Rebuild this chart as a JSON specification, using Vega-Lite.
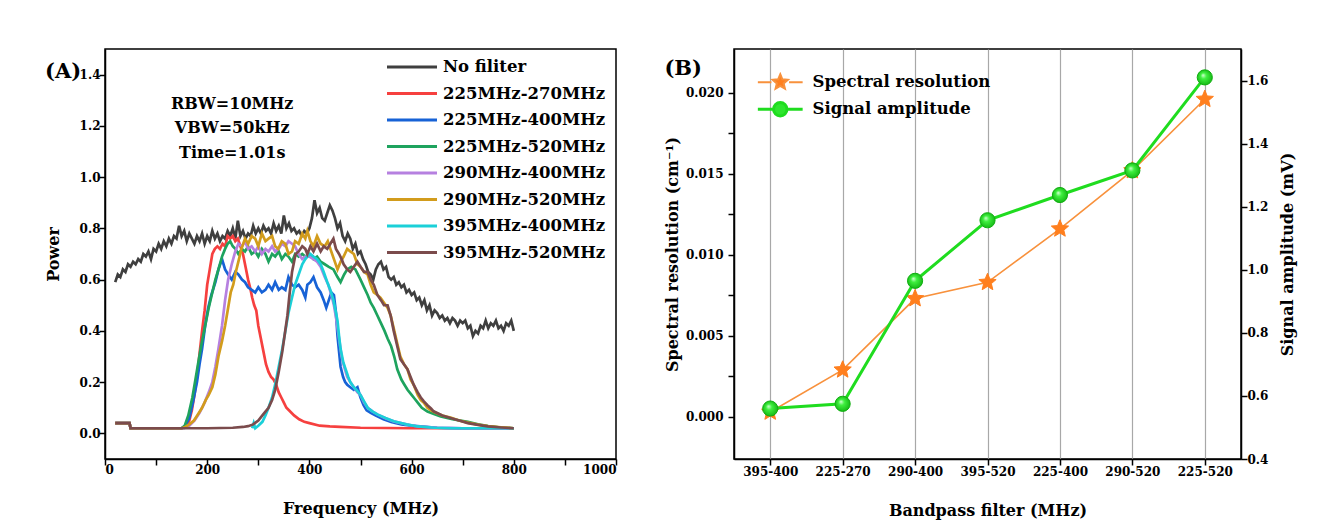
{
"$schema":"https://vega.github.io/schema/vega-lite/v6.json",
"background":"white",
"padding":{"left":44,"top":48,"right":10,"bottom":5},
"spacing":45,
"config":{
 "font":"DejaVu Serif",
 "view":{"stroke":"black","strokeWidth":1.5},
 "axis":{"labelFont":"DejaVu Serif","labelFontWeight":"bold","labelFontSize":12,"labelColor":"black","titleFont":"DejaVu Serif","titleFontWeight":"bold","titleFontSize":16,"titleColor":"black","domainColor":"black","domainWidth":1.5,"tickColor":"black","tickWidth":1.5,"tickSize":6,"labelPadding":-1,"grid":false},
 "legend":{"labelFont":"DejaVu Serif","labelFontWeight":"bold","labelFontSize":16.5,"labelColor":"black","labelLimit":400},
 "title":{"font":"DejaVu Serif","fontWeight":"bold","fontSize":21,"color":"black","anchor":"start","frame":"bounds"}
},
"resolve":{"scale":{"color":"independent"},"legend":{"color":"independent"}},
"datasets":{
"notes":[{"t":"RBW=10MHz","f":249,"p":1.285},{"t":"VBW=50kHz","f":249,"p":1.19},{"t":"Time=1.01s","f":249,"p":1.095}],
"filters":[{"i":0,"filter":"395-400","res":0.0003,"amp":0.56},{"i":1,"filter":"225-270","res":0.0029,"amp":0.575},{"i":2,"filter":"290-400","res":0.0073,"amp":0.965},{"i":3,"filter":"395-520","res":0.0083,"amp":1.157},{"i":4,"filter":"225-400","res":0.0116,"amp":1.237},{"i":5,"filter":"290-520","res":0.0152,"amp":1.315},{"i":6,"filter":"225-520","res":0.0196,"amp":1.61}],
"spectra":[
{"s":"No filiter","f":20,"p":0.59},{"s":"No filiter","f":25,"p":0.62},{"s":"No filiter","f":30,"p":0.61},{"s":"No filiter","f":35,"p":0.64},{"s":"No filiter","f":40,"p":0.63},{"s":"No filiter","f":45,"p":0.66},{"s":"No filiter","f":50,"p":0.65},{"s":"No filiter","f":55,"p":0.67},{"s":"No filiter","f":60,"p":0.66},{"s":"No filiter","f":65,"p":0.68},{"s":"No filiter","f":70,"p":0.67},{"s":"No filiter","f":75,"p":0.7},{"s":"No filiter","f":80,"p":0.69},{"s":"No filiter","f":85,"p":0.71},{"s":"No filiter","f":90,"p":0.68},{"s":"No filiter","f":95,"p":0.72},{"s":"No filiter","f":100,"p":0.71},{"s":"No filiter","f":105,"p":0.74},{"s":"No filiter","f":110,"p":0.72},{"s":"No filiter","f":115,"p":0.75},{"s":"No filiter","f":120,"p":0.73},{"s":"No filiter","f":125,"p":0.76},{"s":"No filiter","f":130,"p":0.74},{"s":"No filiter","f":135,"p":0.77},{"s":"No filiter","f":140,"p":0.76},{"s":"No filiter","f":145,"p":0.81},{"s":"No filiter","f":150,"p":0.77},{"s":"No filiter","f":155,"p":0.79},{"s":"No filiter","f":160,"p":0.75},{"s":"No filiter","f":165,"p":0.78},{"s":"No filiter","f":170,"p":0.76},{"s":"No filiter","f":175,"p":0.74},{"s":"No filiter","f":180,"p":0.77},{"s":"No filiter","f":185,"p":0.75},{"s":"No filiter","f":190,"p":0.78},{"s":"No filiter","f":195,"p":0.74},{"s":"No filiter","f":200,"p":0.77},{"s":"No filiter","f":205,"p":0.75},{"s":"No filiter","f":210,"p":0.79},{"s":"No filiter","f":215,"p":0.76},{"s":"No filiter","f":220,"p":0.78},{"s":"No filiter","f":225,"p":0.75},{"s":"No filiter","f":230,"p":0.77},{"s":"No filiter","f":235,"p":0.76},{"s":"No filiter","f":240,"p":0.79},{"s":"No filiter","f":245,"p":0.77},{"s":"No filiter","f":250,"p":0.8},{"s":"No filiter","f":255,"p":0.76},{"s":"No filiter","f":260,"p":0.83},{"s":"No filiter","f":265,"p":0.77},{"s":"No filiter","f":270,"p":0.79},{"s":"No filiter","f":275,"p":0.76},{"s":"No filiter","f":280,"p":0.78},{"s":"No filiter","f":285,"p":0.77},{"s":"No filiter","f":290,"p":0.81},{"s":"No filiter","f":295,"p":0.78},{"s":"No filiter","f":300,"p":0.8},{"s":"No filiter","f":305,"p":0.78},{"s":"No filiter","f":310,"p":0.81},{"s":"No filiter","f":315,"p":0.79},{"s":"No filiter","f":320,"p":0.8},{"s":"No filiter","f":325,"p":0.78},{"s":"No filiter","f":330,"p":0.82},{"s":"No filiter","f":335,"p":0.79},{"s":"No filiter","f":340,"p":0.81},{"s":"No filiter","f":345,"p":0.78},{"s":"No filiter","f":350,"p":0.85},{"s":"No filiter","f":355,"p":0.8},{"s":"No filiter","f":360,"p":0.82},{"s":"No filiter","f":365,"p":0.79},{"s":"No filiter","f":370,"p":0.8},{"s":"No filiter","f":375,"p":0.78},{"s":"No filiter","f":380,"p":0.79},{"s":"No filiter","f":385,"p":0.77},{"s":"No filiter","f":390,"p":0.79},{"s":"No filiter","f":395,"p":0.78},{"s":"No filiter","f":400,"p":0.8},{"s":"No filiter","f":405,"p":0.84},{"s":"No filiter","f":410,"p":0.91},{"s":"No filiter","f":415,"p":0.86},{"s":"No filiter","f":420,"p":0.88},{"s":"No filiter","f":425,"p":0.84},{"s":"No filiter","f":430,"p":0.83},{"s":"No filiter","f":435,"p":0.86},{"s":"No filiter","f":440,"p":0.89},{"s":"No filiter","f":445,"p":0.87},{"s":"No filiter","f":450,"p":0.84},{"s":"No filiter","f":455,"p":0.8},{"s":"No filiter","f":460,"p":0.82},{"s":"No filiter","f":465,"p":0.77},{"s":"No filiter","f":470,"p":0.75},{"s":"No filiter","f":475,"p":0.78},{"s":"No filiter","f":480,"p":0.76},{"s":"No filiter","f":485,"p":0.72},{"s":"No filiter","f":490,"p":0.74},{"s":"No filiter","f":495,"p":0.7},{"s":"No filiter","f":500,"p":0.71},{"s":"No filiter","f":505,"p":0.68},{"s":"No filiter","f":510,"p":0.66},{"s":"No filiter","f":515,"p":0.63},{"s":"No filiter","f":520,"p":0.62},{"s":"No filiter","f":525,"p":0.6},{"s":"No filiter","f":530,"p":0.64},{"s":"No filiter","f":535,"p":0.66},{"s":"No filiter","f":540,"p":0.67},{"s":"No filiter","f":545,"p":0.64},{"s":"No filiter","f":550,"p":0.65},{"s":"No filiter","f":555,"p":0.61},{"s":"No filiter","f":560,"p":0.6},{"s":"No filiter","f":565,"p":0.61},{"s":"No filiter","f":570,"p":0.58},{"s":"No filiter","f":575,"p":0.59},{"s":"No filiter","f":580,"p":0.57},{"s":"No filiter","f":585,"p":0.58},{"s":"No filiter","f":590,"p":0.55},{"s":"No filiter","f":595,"p":0.56},{"s":"No filiter","f":600,"p":0.54},{"s":"No filiter","f":605,"p":0.55},{"s":"No filiter","f":610,"p":0.52},{"s":"No filiter","f":615,"p":0.53},{"s":"No filiter","f":620,"p":0.5},{"s":"No filiter","f":625,"p":0.52},{"s":"No filiter","f":630,"p":0.48},{"s":"No filiter","f":635,"p":0.5},{"s":"No filiter","f":640,"p":0.46},{"s":"No filiter","f":645,"p":0.48},{"s":"No filiter","f":650,"p":0.47},{"s":"No filiter","f":655,"p":0.45},{"s":"No filiter","f":660,"p":0.46},{"s":"No filiter","f":665,"p":0.44},{"s":"No filiter","f":670,"p":0.45},{"s":"No filiter","f":675,"p":0.43},{"s":"No filiter","f":680,"p":0.45},{"s":"No filiter","f":685,"p":0.44},{"s":"No filiter","f":690,"p":0.42},{"s":"No filiter","f":695,"p":0.44},{"s":"No filiter","f":700,"p":0.43},{"s":"No filiter","f":705,"p":0.44},{"s":"No filiter","f":710,"p":0.41},{"s":"No filiter","f":715,"p":0.42},{"s":"No filiter","f":720,"p":0.38},{"s":"No filiter","f":725,"p":0.4},{"s":"No filiter","f":730,"p":0.39},{"s":"No filiter","f":735,"p":0.42},{"s":"No filiter","f":740,"p":0.41},{"s":"No filiter","f":745,"p":0.44},{"s":"No filiter","f":750,"p":0.41},{"s":"No filiter","f":755,"p":0.43},{"s":"No filiter","f":760,"p":0.42},{"s":"No filiter","f":765,"p":0.44},{"s":"No filiter","f":770,"p":0.41},{"s":"No filiter","f":775,"p":0.42},{"s":"No filiter","f":780,"p":0.4},{"s":"No filiter","f":785,"p":0.43},{"s":"No filiter","f":790,"p":0.42},{"s":"No filiter","f":795,"p":0.44},{"s":"No filiter","f":800,"p":0.4},
{"s":"225MHz-270MHz","f":20,"p":0.04},{"s":"225MHz-270MHz","f":48,"p":0.04},{"s":"225MHz-270MHz","f":50,"p":0.02},{"s":"225MHz-270MHz","f":100,"p":0.02},{"s":"225MHz-270MHz","f":150,"p":0.02},{"s":"225MHz-270MHz","f":160,"p":0.03},{"s":"225MHz-270MHz","f":165,"p":0.05},{"s":"225MHz-270MHz","f":170,"p":0.09},{"s":"225MHz-270MHz","f":175,"p":0.15},{"s":"225MHz-270MHz","f":180,"p":0.22},{"s":"225MHz-270MHz","f":185,"p":0.31},{"s":"225MHz-270MHz","f":190,"p":0.4},{"s":"225MHz-270MHz","f":195,"p":0.48},{"s":"225MHz-270MHz","f":200,"p":0.58},{"s":"225MHz-270MHz","f":205,"p":0.64},{"s":"225MHz-270MHz","f":210,"p":0.7},{"s":"225MHz-270MHz","f":215,"p":0.72},{"s":"225MHz-270MHz","f":220,"p":0.73},{"s":"225MHz-270MHz","f":225,"p":0.72},{"s":"225MHz-270MHz","f":230,"p":0.74},{"s":"225MHz-270MHz","f":235,"p":0.73},{"s":"225MHz-270MHz","f":240,"p":0.77},{"s":"225MHz-270MHz","f":245,"p":0.76},{"s":"225MHz-270MHz","f":250,"p":0.77},{"s":"225MHz-270MHz","f":255,"p":0.75},{"s":"225MHz-270MHz","f":260,"p":0.76},{"s":"225MHz-270MHz","f":265,"p":0.73},{"s":"225MHz-270MHz","f":270,"p":0.7},{"s":"225MHz-270MHz","f":275,"p":0.65},{"s":"225MHz-270MHz","f":280,"p":0.6},{"s":"225MHz-270MHz","f":285,"p":0.56},{"s":"225MHz-270MHz","f":288,"p":0.53},{"s":"225MHz-270MHz","f":292,"p":0.5},{"s":"225MHz-270MHz","f":296,"p":0.48},{"s":"225MHz-270MHz","f":300,"p":0.42},{"s":"225MHz-270MHz","f":305,"p":0.37},{"s":"225MHz-270MHz","f":310,"p":0.32},{"s":"225MHz-270MHz","f":315,"p":0.27},{"s":"225MHz-270MHz","f":320,"p":0.24},{"s":"225MHz-270MHz","f":325,"p":0.22},{"s":"225MHz-270MHz","f":330,"p":0.21},{"s":"225MHz-270MHz","f":335,"p":0.19},{"s":"225MHz-270MHz","f":340,"p":0.16},{"s":"225MHz-270MHz","f":345,"p":0.14},{"s":"225MHz-270MHz","f":350,"p":0.12},{"s":"225MHz-270MHz","f":355,"p":0.1},{"s":"225MHz-270MHz","f":360,"p":0.09},{"s":"225MHz-270MHz","f":370,"p":0.07},{"s":"225MHz-270MHz","f":380,"p":0.055},{"s":"225MHz-270MHz","f":390,"p":0.045},{"s":"225MHz-270MHz","f":400,"p":0.04},{"s":"225MHz-270MHz","f":420,"p":0.03},{"s":"225MHz-270MHz","f":440,"p":0.027},{"s":"225MHz-270MHz","f":460,"p":0.025},{"s":"225MHz-270MHz","f":500,"p":0.022},{"s":"225MHz-270MHz","f":600,"p":0.02},{"s":"225MHz-270MHz","f":700,"p":0.02},{"s":"225MHz-270MHz","f":800,"p":0.02},
{"s":"225MHz-400MHz","f":20,"p":0.04},{"s":"225MHz-400MHz","f":48,"p":0.04},{"s":"225MHz-400MHz","f":50,"p":0.02},{"s":"225MHz-400MHz","f":150,"p":0.02},{"s":"225MHz-400MHz","f":157,"p":0.03},{"s":"225MHz-400MHz","f":165,"p":0.06},{"s":"225MHz-400MHz","f":172,"p":0.12},{"s":"225MHz-400MHz","f":180,"p":0.2},{"s":"225MHz-400MHz","f":185,"p":0.27},{"s":"225MHz-400MHz","f":190,"p":0.33},{"s":"225MHz-400MHz","f":196,"p":0.42},{"s":"225MHz-400MHz","f":202,"p":0.49},{"s":"225MHz-400MHz","f":208,"p":0.54},{"s":"225MHz-400MHz","f":216,"p":0.59},{"s":"225MHz-400MHz","f":222,"p":0.64},{"s":"225MHz-400MHz","f":229,"p":0.68},{"s":"225MHz-400MHz","f":235,"p":0.64},{"s":"225MHz-400MHz","f":241,"p":0.62},{"s":"225MHz-400MHz","f":248,"p":0.6},{"s":"225MHz-400MHz","f":255,"p":0.63},{"s":"225MHz-400MHz","f":261,"p":0.62},{"s":"225MHz-400MHz","f":268,"p":0.6},{"s":"225MHz-400MHz","f":274,"p":0.59},{"s":"225MHz-400MHz","f":280,"p":0.57},{"s":"225MHz-400MHz","f":287,"p":0.56},{"s":"225MHz-400MHz","f":294,"p":0.55},{"s":"225MHz-400MHz","f":300,"p":0.57},{"s":"225MHz-400MHz","f":307,"p":0.55},{"s":"225MHz-400MHz","f":314,"p":0.56},{"s":"225MHz-400MHz","f":320,"p":0.58},{"s":"225MHz-400MHz","f":327,"p":0.56},{"s":"225MHz-400MHz","f":333,"p":0.59},{"s":"225MHz-400MHz","f":340,"p":0.56},{"s":"225MHz-400MHz","f":346,"p":0.57},{"s":"225MHz-400MHz","f":353,"p":0.56},{"s":"225MHz-400MHz","f":359,"p":0.61},{"s":"225MHz-400MHz","f":366,"p":0.58},{"s":"225MHz-400MHz","f":372,"p":0.57},{"s":"225MHz-400MHz","f":379,"p":0.58},{"s":"225MHz-400MHz","f":386,"p":0.56},{"s":"225MHz-400MHz","f":392,"p":0.53},{"s":"225MHz-400MHz","f":396,"p":0.58},{"s":"225MHz-400MHz","f":402,"p":0.59},{"s":"225MHz-400MHz","f":408,"p":0.61},{"s":"225MHz-400MHz","f":415,"p":0.57},{"s":"225MHz-400MHz","f":422,"p":0.55},{"s":"225MHz-400MHz","f":428,"p":0.52},{"s":"225MHz-400MHz","f":433,"p":0.49},{"s":"225MHz-400MHz","f":438,"p":0.52},{"s":"225MHz-400MHz","f":443,"p":0.55},{"s":"225MHz-400MHz","f":448,"p":0.54},{"s":"225MHz-400MHz","f":452,"p":0.47},{"s":"225MHz-400MHz","f":455,"p":0.38},{"s":"225MHz-400MHz","f":458,"p":0.32},{"s":"225MHz-400MHz","f":461,"p":0.26},{"s":"225MHz-400MHz","f":466,"p":0.22},{"s":"225MHz-400MHz","f":470,"p":0.2},{"s":"225MHz-400MHz","f":474,"p":0.19},{"s":"225MHz-400MHz","f":480,"p":0.18},{"s":"225MHz-400MHz","f":487,"p":0.17},{"s":"225MHz-400MHz","f":494,"p":0.18},{"s":"225MHz-400MHz","f":500,"p":0.14},{"s":"225MHz-400MHz","f":506,"p":0.11},{"s":"225MHz-400MHz","f":512,"p":0.09},{"s":"225MHz-400MHz","f":520,"p":0.08},{"s":"225MHz-400MHz","f":530,"p":0.07},{"s":"225MHz-400MHz","f":545,"p":0.055},{"s":"225MHz-400MHz","f":560,"p":0.045},{"s":"225MHz-400MHz","f":580,"p":0.035},{"s":"225MHz-400MHz","f":600,"p":0.03},{"s":"225MHz-400MHz","f":650,"p":0.022},{"s":"225MHz-400MHz","f":700,"p":0.02},{"s":"225MHz-400MHz","f":800,"p":0.02},
{"s":"225MHz-520MHz","f":20,"p":0.04},{"s":"225MHz-520MHz","f":48,"p":0.04},{"s":"225MHz-520MHz","f":50,"p":0.02},{"s":"225MHz-520MHz","f":150,"p":0.02},{"s":"225MHz-520MHz","f":156,"p":0.03},{"s":"225MHz-520MHz","f":163,"p":0.07},{"s":"225MHz-520MHz","f":171,"p":0.14},{"s":"225MHz-520MHz","f":177,"p":0.21},{"s":"225MHz-520MHz","f":182,"p":0.27},{"s":"225MHz-520MHz","f":189,"p":0.35},{"s":"225MHz-520MHz","f":196,"p":0.42},{"s":"225MHz-520MHz","f":203,"p":0.49},{"s":"225MHz-520MHz","f":210,"p":0.55},{"s":"225MHz-520MHz","f":216,"p":0.6},{"s":"225MHz-520MHz","f":222,"p":0.64},{"s":"225MHz-520MHz","f":229,"p":0.69},{"s":"225MHz-520MHz","f":235,"p":0.72},{"s":"225MHz-520MHz","f":240,"p":0.74},{"s":"225MHz-520MHz","f":245,"p":0.75},{"s":"225MHz-520MHz","f":250,"p":0.73},{"s":"225MHz-520MHz","f":255,"p":0.72},{"s":"225MHz-520MHz","f":261,"p":0.7},{"s":"225MHz-520MHz","f":268,"p":0.72},{"s":"225MHz-520MHz","f":274,"p":0.71},{"s":"225MHz-520MHz","f":280,"p":0.73},{"s":"225MHz-520MHz","f":287,"p":0.7},{"s":"225MHz-520MHz","f":294,"p":0.71},{"s":"225MHz-520MHz","f":300,"p":0.69},{"s":"225MHz-520MHz","f":307,"p":0.72},{"s":"225MHz-520MHz","f":314,"p":0.7},{"s":"225MHz-520MHz","f":320,"p":0.67},{"s":"225MHz-520MHz","f":327,"p":0.7},{"s":"225MHz-520MHz","f":333,"p":0.69},{"s":"225MHz-520MHz","f":340,"p":0.71},{"s":"225MHz-520MHz","f":346,"p":0.68},{"s":"225MHz-520MHz","f":353,"p":0.7},{"s":"225MHz-520MHz","f":359,"p":0.69},{"s":"225MHz-520MHz","f":366,"p":0.67},{"s":"225MHz-520MHz","f":372,"p":0.7},{"s":"225MHz-520MHz","f":379,"p":0.69},{"s":"225MHz-520MHz","f":386,"p":0.7},{"s":"225MHz-520MHz","f":392,"p":0.69},{"s":"225MHz-520MHz","f":400,"p":0.7},{"s":"225MHz-520MHz","f":408,"p":0.68},{"s":"225MHz-520MHz","f":415,"p":0.69},{"s":"225MHz-520MHz","f":422,"p":0.67},{"s":"225MHz-520MHz","f":430,"p":0.66},{"s":"225MHz-520MHz","f":438,"p":0.65},{"s":"225MHz-520MHz","f":447,"p":0.64},{"s":"225MHz-520MHz","f":455,"p":0.61},{"s":"225MHz-520MHz","f":461,"p":0.59},{"s":"225MHz-520MHz","f":468,"p":0.62},{"s":"225MHz-520MHz","f":474,"p":0.64},{"s":"225MHz-520MHz","f":482,"p":0.65},{"s":"225MHz-520MHz","f":490,"p":0.64},{"s":"225MHz-520MHz","f":500,"p":0.6},{"s":"225MHz-520MHz","f":507,"p":0.57},{"s":"225MHz-520MHz","f":514,"p":0.54},{"s":"225MHz-520MHz","f":520,"p":0.51},{"s":"225MHz-520MHz","f":526,"p":0.49},{"s":"225MHz-520MHz","f":533,"p":0.46},{"s":"225MHz-520MHz","f":540,"p":0.43},{"s":"225MHz-520MHz","f":547,"p":0.4},{"s":"225MHz-520MHz","f":553,"p":0.37},{"s":"225MHz-520MHz","f":560,"p":0.34},{"s":"225MHz-520MHz","f":566,"p":0.3},{"s":"225MHz-520MHz","f":572,"p":0.25},{"s":"225MHz-520MHz","f":580,"p":0.21},{"s":"225MHz-520MHz","f":586,"p":0.19},{"s":"225MHz-520MHz","f":592,"p":0.17},{"s":"225MHz-520MHz","f":600,"p":0.15},{"s":"225MHz-520MHz","f":606,"p":0.135},{"s":"225MHz-520MHz","f":612,"p":0.12},{"s":"225MHz-520MHz","f":620,"p":0.1},{"s":"225MHz-520MHz","f":631,"p":0.085},{"s":"225MHz-520MHz","f":645,"p":0.075},{"s":"225MHz-520MHz","f":657,"p":0.066},{"s":"225MHz-520MHz","f":680,"p":0.055},{"s":"225MHz-520MHz","f":710,"p":0.045},{"s":"225MHz-520MHz","f":730,"p":0.035},{"s":"225MHz-520MHz","f":750,"p":0.028},{"s":"225MHz-520MHz","f":775,"p":0.023},{"s":"225MHz-520MHz","f":800,"p":0.02},
{"s":"290MHz-400MHz","f":20,"p":0.04},{"s":"290MHz-400MHz","f":48,"p":0.04},{"s":"290MHz-400MHz","f":50,"p":0.02},{"s":"290MHz-400MHz","f":155,"p":0.02},{"s":"290MHz-400MHz","f":165,"p":0.03},{"s":"290MHz-400MHz","f":175,"p":0.05},{"s":"290MHz-400MHz","f":185,"p":0.08},{"s":"290MHz-400MHz","f":195,"p":0.12},{"s":"290MHz-400MHz","f":203,"p":0.16},{"s":"290MHz-400MHz","f":210,"p":0.2},{"s":"290MHz-400MHz","f":216,"p":0.26},{"s":"290MHz-400MHz","f":222,"p":0.33},{"s":"290MHz-400MHz","f":229,"p":0.42},{"s":"290MHz-400MHz","f":235,"p":0.52},{"s":"290MHz-400MHz","f":241,"p":0.6},{"s":"290MHz-400MHz","f":248,"p":0.66},{"s":"290MHz-400MHz","f":255,"p":0.71},{"s":"290MHz-400MHz","f":261,"p":0.74},{"s":"290MHz-400MHz","f":268,"p":0.73},{"s":"290MHz-400MHz","f":274,"p":0.75},{"s":"290MHz-400MHz","f":280,"p":0.72},{"s":"290MHz-400MHz","f":287,"p":0.73},{"s":"290MHz-400MHz","f":294,"p":0.71},{"s":"290MHz-400MHz","f":300,"p":0.73},{"s":"290MHz-400MHz","f":307,"p":0.7},{"s":"290MHz-400MHz","f":314,"p":0.72},{"s":"290MHz-400MHz","f":320,"p":0.71},{"s":"290MHz-400MHz","f":327,"p":0.73},{"s":"290MHz-400MHz","f":333,"p":0.71},{"s":"290MHz-400MHz","f":340,"p":0.72},{"s":"290MHz-400MHz","f":346,"p":0.74},{"s":"290MHz-400MHz","f":353,"p":0.73},{"s":"290MHz-400MHz","f":359,"p":0.75},{"s":"290MHz-400MHz","f":366,"p":0.74},{"s":"290MHz-400MHz","f":372,"p":0.73},{"s":"290MHz-400MHz","f":379,"p":0.7},{"s":"290MHz-400MHz","f":386,"p":0.68},{"s":"290MHz-400MHz","f":392,"p":0.69},{"s":"290MHz-400MHz","f":400,"p":0.69},{"s":"290MHz-400MHz","f":408,"p":0.68},{"s":"290MHz-400MHz","f":415,"p":0.67},{"s":"290MHz-400MHz","f":422,"p":0.65},{"s":"290MHz-400MHz","f":430,"p":0.61},{"s":"290MHz-400MHz","f":437,"p":0.58},{"s":"290MHz-400MHz","f":443,"p":0.54},{"s":"290MHz-400MHz","f":448,"p":0.5},{"s":"290MHz-400MHz","f":453,"p":0.44},{"s":"290MHz-400MHz","f":458,"p":0.37},{"s":"290MHz-400MHz","f":463,"p":0.3},{"s":"290MHz-400MHz","f":468,"p":0.26},{"s":"290MHz-400MHz","f":474,"p":0.22},{"s":"290MHz-400MHz","f":480,"p":0.2},{"s":"290MHz-400MHz","f":487,"p":0.18},{"s":"290MHz-400MHz","f":494,"p":0.16},{"s":"290MHz-400MHz","f":500,"p":0.15},{"s":"290MHz-400MHz","f":507,"p":0.12},{"s":"290MHz-400MHz","f":514,"p":0.1},{"s":"290MHz-400MHz","f":524,"p":0.085},{"s":"290MHz-400MHz","f":533,"p":0.074},{"s":"290MHz-400MHz","f":550,"p":0.058},{"s":"290MHz-400MHz","f":565,"p":0.047},{"s":"290MHz-400MHz","f":590,"p":0.035},{"s":"290MHz-400MHz","f":612,"p":0.027},{"s":"290MHz-400MHz","f":650,"p":0.022},{"s":"290MHz-400MHz","f":700,"p":0.02},{"s":"290MHz-400MHz","f":800,"p":0.02},
{"s":"290MHz-520MHz","f":20,"p":0.04},{"s":"290MHz-520MHz","f":48,"p":0.04},{"s":"290MHz-520MHz","f":50,"p":0.02},{"s":"290MHz-520MHz","f":150,"p":0.02},{"s":"290MHz-520MHz","f":157,"p":0.025},{"s":"290MHz-520MHz","f":165,"p":0.035},{"s":"290MHz-520MHz","f":174,"p":0.05},{"s":"290MHz-520MHz","f":182,"p":0.075},{"s":"290MHz-520MHz","f":190,"p":0.1},{"s":"290MHz-520MHz","f":197,"p":0.13},{"s":"290MHz-520MHz","f":203,"p":0.15},{"s":"290MHz-520MHz","f":210,"p":0.18},{"s":"290MHz-520MHz","f":216,"p":0.23},{"s":"290MHz-520MHz","f":222,"p":0.3},{"s":"290MHz-520MHz","f":229,"p":0.36},{"s":"290MHz-520MHz","f":235,"p":0.42},{"s":"290MHz-520MHz","f":241,"p":0.49},{"s":"290MHz-520MHz","f":246,"p":0.55},{"s":"290MHz-520MHz","f":251,"p":0.58},{"s":"290MHz-520MHz","f":256,"p":0.63},{"s":"290MHz-520MHz","f":261,"p":0.67},{"s":"290MHz-520MHz","f":267,"p":0.72},{"s":"290MHz-520MHz","f":274,"p":0.76},{"s":"290MHz-520MHz","f":280,"p":0.74},{"s":"290MHz-520MHz","f":287,"p":0.77},{"s":"290MHz-520MHz","f":294,"p":0.76},{"s":"290MHz-520MHz","f":300,"p":0.73},{"s":"290MHz-520MHz","f":307,"p":0.78},{"s":"290MHz-520MHz","f":314,"p":0.75},{"s":"290MHz-520MHz","f":320,"p":0.76},{"s":"290MHz-520MHz","f":327,"p":0.77},{"s":"290MHz-520MHz","f":333,"p":0.73},{"s":"290MHz-520MHz","f":339,"p":0.72},{"s":"290MHz-520MHz","f":346,"p":0.75},{"s":"290MHz-520MHz","f":353,"p":0.74},{"s":"290MHz-520MHz","f":359,"p":0.7},{"s":"290MHz-520MHz","f":366,"p":0.71},{"s":"290MHz-520MHz","f":372,"p":0.75},{"s":"290MHz-520MHz","f":379,"p":0.74},{"s":"290MHz-520MHz","f":386,"p":0.78},{"s":"290MHz-520MHz","f":392,"p":0.76},{"s":"290MHz-520MHz","f":396,"p":0.79},{"s":"290MHz-520MHz","f":402,"p":0.75},{"s":"290MHz-520MHz","f":408,"p":0.73},{"s":"290MHz-520MHz","f":415,"p":0.77},{"s":"290MHz-520MHz","f":422,"p":0.74},{"s":"290MHz-520MHz","f":430,"p":0.73},{"s":"290MHz-520MHz","f":436,"p":0.75},{"s":"290MHz-520MHz","f":441,"p":0.72},{"s":"290MHz-520MHz","f":448,"p":0.68},{"s":"290MHz-520MHz","f":455,"p":0.64},{"s":"290MHz-520MHz","f":461,"p":0.67},{"s":"290MHz-520MHz","f":467,"p":0.69},{"s":"290MHz-520MHz","f":474,"p":0.72},{"s":"290MHz-520MHz","f":480,"p":0.71},{"s":"290MHz-520MHz","f":487,"p":0.7},{"s":"290MHz-520MHz","f":494,"p":0.66},{"s":"290MHz-520MHz","f":500,"p":0.65},{"s":"290MHz-520MHz","f":507,"p":0.63},{"s":"290MHz-520MHz","f":514,"p":0.62},{"s":"290MHz-520MHz","f":520,"p":0.58},{"s":"290MHz-520MHz","f":526,"p":0.55},{"s":"290MHz-520MHz","f":533,"p":0.54},{"s":"290MHz-520MHz","f":539,"p":0.53},{"s":"290MHz-520MHz","f":546,"p":0.51},{"s":"290MHz-520MHz","f":553,"p":0.49},{"s":"290MHz-520MHz","f":559,"p":0.46},{"s":"290MHz-520MHz","f":565,"p":0.41},{"s":"290MHz-520MHz","f":572,"p":0.35},{"s":"290MHz-520MHz","f":578,"p":0.3},{"s":"290MHz-520MHz","f":585,"p":0.27},{"s":"290MHz-520MHz","f":592,"p":0.25},{"s":"290MHz-520MHz","f":598,"p":0.21},{"s":"290MHz-520MHz","f":604,"p":0.19},{"s":"290MHz-520MHz","f":612,"p":0.15},{"s":"290MHz-520MHz","f":618,"p":0.13},{"s":"290MHz-520MHz","f":624,"p":0.12},{"s":"290MHz-520MHz","f":631,"p":0.1},{"s":"290MHz-520MHz","f":638,"p":0.09},{"s":"290MHz-520MHz","f":645,"p":0.082},{"s":"290MHz-520MHz","f":660,"p":0.07},{"s":"290MHz-520MHz","f":676,"p":0.062},{"s":"290MHz-520MHz","f":693,"p":0.05},{"s":"290MHz-520MHz","f":710,"p":0.042},{"s":"290MHz-520MHz","f":730,"p":0.034},{"s":"290MHz-520MHz","f":749,"p":0.028},{"s":"290MHz-520MHz","f":775,"p":0.024},{"s":"290MHz-520MHz","f":800,"p":0.02},
{"s":"395MHz-400MHz","f":288,"p":0.02},{"s":"395MHz-400MHz","f":291,"p":0.04},{"s":"395MHz-400MHz","f":294,"p":0.02},{"s":"395MHz-400MHz","f":300,"p":0.03},{"s":"395MHz-400MHz","f":308,"p":0.045},{"s":"395MHz-400MHz","f":314,"p":0.07},{"s":"395MHz-400MHz","f":320,"p":0.1},{"s":"395MHz-400MHz","f":327,"p":0.14},{"s":"395MHz-400MHz","f":333,"p":0.19},{"s":"395MHz-400MHz","f":339,"p":0.25},{"s":"395MHz-400MHz","f":346,"p":0.32},{"s":"395MHz-400MHz","f":353,"p":0.4},{"s":"395MHz-400MHz","f":359,"p":0.47},{"s":"395MHz-400MHz","f":366,"p":0.53},{"s":"395MHz-400MHz","f":372,"p":0.58},{"s":"395MHz-400MHz","f":379,"p":0.62},{"s":"395MHz-400MHz","f":386,"p":0.66},{"s":"395MHz-400MHz","f":392,"p":0.68},{"s":"395MHz-400MHz","f":396,"p":0.69},{"s":"395MHz-400MHz","f":402,"p":0.7},{"s":"395MHz-400MHz","f":408,"p":0.69},{"s":"395MHz-400MHz","f":415,"p":0.68},{"s":"395MHz-400MHz","f":422,"p":0.66},{"s":"395MHz-400MHz","f":428,"p":0.63},{"s":"395MHz-400MHz","f":435,"p":0.59},{"s":"395MHz-400MHz","f":441,"p":0.56},{"s":"395MHz-400MHz","f":447,"p":0.52},{"s":"395MHz-400MHz","f":451,"p":0.48},{"s":"395MHz-400MHz","f":455,"p":0.44},{"s":"395MHz-400MHz","f":458,"p":0.38},{"s":"395MHz-400MHz","f":461,"p":0.33},{"s":"395MHz-400MHz","f":466,"p":0.28},{"s":"395MHz-400MHz","f":471,"p":0.25},{"s":"395MHz-400MHz","f":476,"p":0.22},{"s":"395MHz-400MHz","f":480,"p":0.2},{"s":"395MHz-400MHz","f":487,"p":0.18},{"s":"395MHz-400MHz","f":494,"p":0.165},{"s":"395MHz-400MHz","f":500,"p":0.15},{"s":"395MHz-400MHz","f":507,"p":0.125},{"s":"395MHz-400MHz","f":514,"p":0.1},{"s":"395MHz-400MHz","f":524,"p":0.085},{"s":"395MHz-400MHz","f":533,"p":0.074},{"s":"395MHz-400MHz","f":549,"p":0.06},{"s":"395MHz-400MHz","f":565,"p":0.047},{"s":"395MHz-400MHz","f":590,"p":0.035},{"s":"395MHz-400MHz","f":612,"p":0.027},{"s":"395MHz-400MHz","f":645,"p":0.022},{"s":"395MHz-400MHz","f":676,"p":0.02},{"s":"395MHz-400MHz","f":800,"p":0.02},
{"s":"395MHz-520MHz","f":20,"p":0.04},{"s":"395MHz-520MHz","f":48,"p":0.04},{"s":"395MHz-520MHz","f":50,"p":0.02},{"s":"395MHz-520MHz","f":150,"p":0.02},{"s":"395MHz-520MHz","f":200,"p":0.02},{"s":"395MHz-520MHz","f":250,"p":0.022},{"s":"395MHz-520MHz","f":270,"p":0.025},{"s":"395MHz-520MHz","f":280,"p":0.028},{"s":"395MHz-520MHz","f":290,"p":0.035},{"s":"395MHz-520MHz","f":300,"p":0.05},{"s":"395MHz-520MHz","f":308,"p":0.07},{"s":"395MHz-520MHz","f":314,"p":0.085},{"s":"395MHz-520MHz","f":320,"p":0.1},{"s":"395MHz-520MHz","f":327,"p":0.13},{"s":"395MHz-520MHz","f":333,"p":0.17},{"s":"395MHz-520MHz","f":340,"p":0.24},{"s":"395MHz-520MHz","f":347,"p":0.32},{"s":"395MHz-520MHz","f":352,"p":0.39},{"s":"395MHz-520MHz","f":357,"p":0.46},{"s":"395MHz-520MHz","f":361,"p":0.54},{"s":"395MHz-520MHz","f":366,"p":0.63},{"s":"395MHz-520MHz","f":370,"p":0.67},{"s":"395MHz-520MHz","f":373,"p":0.7},{"s":"395MHz-520MHz","f":379,"p":0.71},{"s":"395MHz-520MHz","f":386,"p":0.73},{"s":"395MHz-520MHz","f":392,"p":0.72},{"s":"395MHz-520MHz","f":396,"p":0.7},{"s":"395MHz-520MHz","f":402,"p":0.73},{"s":"395MHz-520MHz","f":408,"p":0.71},{"s":"395MHz-520MHz","f":415,"p":0.74},{"s":"395MHz-520MHz","f":422,"p":0.71},{"s":"395MHz-520MHz","f":428,"p":0.73},{"s":"395MHz-520MHz","f":435,"p":0.72},{"s":"395MHz-520MHz","f":441,"p":0.74},{"s":"395MHz-520MHz","f":447,"p":0.76},{"s":"395MHz-520MHz","f":452,"p":0.72},{"s":"395MHz-520MHz","f":458,"p":0.7},{"s":"395MHz-520MHz","f":463,"p":0.68},{"s":"395MHz-520MHz","f":467,"p":0.66},{"s":"395MHz-520MHz","f":474,"p":0.64},{"s":"395MHz-520MHz","f":480,"p":0.63},{"s":"395MHz-520MHz","f":487,"p":0.65},{"s":"395MHz-520MHz","f":494,"p":0.67},{"s":"395MHz-520MHz","f":500,"p":0.65},{"s":"395MHz-520MHz","f":507,"p":0.63},{"s":"395MHz-520MHz","f":514,"p":0.63},{"s":"395MHz-520MHz","f":520,"p":0.6},{"s":"395MHz-520MHz","f":526,"p":0.58},{"s":"395MHz-520MHz","f":533,"p":0.54},{"s":"395MHz-520MHz","f":540,"p":0.52},{"s":"395MHz-520MHz","f":546,"p":0.5},{"s":"395MHz-520MHz","f":553,"p":0.5},{"s":"395MHz-520MHz","f":559,"p":0.46},{"s":"395MHz-520MHz","f":565,"p":0.4},{"s":"395MHz-520MHz","f":572,"p":0.34},{"s":"395MHz-520MHz","f":578,"p":0.29},{"s":"395MHz-520MHz","f":585,"p":0.27},{"s":"395MHz-520MHz","f":592,"p":0.25},{"s":"395MHz-520MHz","f":598,"p":0.22},{"s":"395MHz-520MHz","f":604,"p":0.19},{"s":"395MHz-520MHz","f":612,"p":0.16},{"s":"395MHz-520MHz","f":618,"p":0.14},{"s":"395MHz-520MHz","f":624,"p":0.125},{"s":"395MHz-520MHz","f":631,"p":0.11},{"s":"395MHz-520MHz","f":638,"p":0.097},{"s":"395MHz-520MHz","f":643,"p":0.086},{"s":"395MHz-520MHz","f":660,"p":0.07},{"s":"395MHz-520MHz","f":676,"p":0.06},{"s":"395MHz-520MHz","f":693,"p":0.05},{"s":"395MHz-520MHz","f":710,"p":0.04},{"s":"395MHz-520MHz","f":730,"p":0.033},{"s":"395MHz-520MHz","f":749,"p":0.027},{"s":"395MHz-520MHz","f":775,"p":0.023},{"s":"395MHz-520MHz","f":800,"p":0.02}
]
},
"hconcat":[
{
 "width":511,"height":410,
 "title":{"text":"(A)","offset":-33},
 "layer":[
  {"data":{"name":"spectra"},
   "mark":{"type":"line","strokeWidth":2.7,"clip":true},
   "encoding":{
    "x":{"field":"f","type":"quantitative","scale":{"domain":[0,1000],"nice":false,"zero":false},
      "axis":{"title":"Frequency (MHz)","values":[0,100,200,300,400,500,600,700,800,900,1000],"labelExpr":"datum.value % 200 == 0 ? format(datum.value,'d') : ''","titlePadding":25,"encode":{"ticks":{"update":{"y2":{"signal":"datum.value % 200 == 0 ? -6 : -3"}}}}}},
    "y":{"field":"p","type":"quantitative","scale":{"domain":[-0.1,1.5],"nice":false,"zero":false},
      "axis":{"title":"Power","values":[0,0.1,0.2,0.3,0.4,0.5,0.6,0.7,0.8,0.9,1.0,1.1,1.2,1.3,1.4],"labelExpr":"round(datum.value*10) % 2 == 0 ? format(datum.value,'.1f') : ''","titlePadding":18,"encode":{"ticks":{"update":{"x2":{"signal":"round(datum.value*10) % 2 == 0 ? 6 : 3"}}}}}},
    "color":{"field":"s","type":"nominal","scale":{"domain":["No filiter","225MHz-270MHz","225MHz-400MHz","225MHz-520MHz","290MHz-400MHz","290MHz-520MHz","395MHz-400MHz","395MHz-520MHz"],"range":["#3f3f3f","#f6403f","#1762d6","#1ea35e","#b680e0","#d29c1c","#1bd0d8","#7b4b4c"]},
      "legend":{"title":null,"orient":"none","legendX":293,"legendY":4,"symbolType":"M-2,0L2,0","symbolSize":625,"symbolStrokeWidth":3,"labelOffset":17,"rowPadding":3.5}}
   }
  },
  {"data":{"name":"notes"},
   "mark":{"type":"text","font":"DejaVu Serif","fontWeight":"bold","fontSize":16,"color":"black"},
   "encoding":{"x":{"field":"f","type":"quantitative"},"y":{"field":"p","type":"quantitative"},"text":{"field":"t"}}
  }
 ]
},
{
 "width":507,"height":410,
 "title":{"text":"(B)","offset":-30},
 "data":{"name":"filters"},
 "encoding":{
  "x":{"field":"filter","type":"nominal","sort":null,"scale":{"type":"point","padding":0.5,"domain":["395-400","225-270","290-400","395-520","225-400","290-520","225-520"]},
   "axis":{"title":"Bandpass filter (MHz)","labelAngle":0,"labelPadding":1,"grid":true,"gridColor":"#a8a8a8","gridWidth":1.2,"titlePadding":25,"encode":{"ticks":{"update":{"y2":{"value":-6}}}}}}
 },
 "layer":[
  {"layer":[
    {"mark":{"type":"line","strokeWidth":1.6},
     "encoding":{
      "y":{"field":"res","type":"quantitative","scale":{"domain":[-0.0026,0.0227],"nice":false,"zero":false},
        "axis":{"title":"Spectral resolution (cm⁻¹)","values":[0,0.0025,0.005,0.0075,0.01,0.0125,0.015,0.0175,0.02],"labelExpr":"round(datum.value*400) % 2 == 0 ? format(datum.value,'.3f') : ''","labelPadding":5,"titlePadding":5,"encode":{"ticks":{"update":{"x2":{"signal":"round(datum.value*400) % 2 == 0 ? 6 : 3"}}}}}},
      "order":{"field":"i"},
      "color":{"datum":"Spectral resolution","type":"nominal","scale":{"domain":["Spectral resolution","Signal amplitude"],"range":["#f8913c","#1fdc1f"]},
        "legend":{"title":null,"orient":"none","legendX":38,"legendY":25,"symbolSize":1024,"labelOffset":24,"rowPadding":3,
          "encode":{"symbols":{"update":{
            "shape":{"signal":"datum.value == 'Spectral resolution' ? 'M0,-0.5L0.132,-0.182L0.4755,-0.1545L0.214,0.07L0.294,0.4045L0,0.225L-0.294,0.4045L-0.214,0.07L-0.4755,-0.1545L-0.132,-0.182Z M-1.4,0L-0.55,0 M0.55,0L1.4,0' : 'M-0.42,0A0.42,0.42 0 1,0 0.42,0A0.42,0.42 0 1,0 -0.42,0Z M-1.4,0L-0.45,0 M0.45,0L1.4,0'"},
            "fill":{"signal":"datum.value == 'Spectral resolution' ? '#ff7f1e' : '#2ee62e'"},
            "stroke":{"signal":"datum.value == 'Spectral resolution' ? '#f8913c' : '#1fdc1f'"},
            "strokeWidth":{"signal":"datum.value == 'Spectral resolution' ? 2 : 3"},
            "opacity":{"value":1}}}}}}
     }},
    {"mark":{"type":"point","shape":"M0,-1L0.2646,-0.364L0.951,-0.309L0.428,0.139L0.588,0.809L0,0.45L-0.588,0.809L-0.428,0.139L-0.951,-0.309L-0.2646,-0.364Z","filled":true,"fill":"#ff7f1e","stroke":"#ff7f1e","strokeWidth":1,"size":330,"opacity":1},
     "encoding":{"y":{"field":"res","type":"quantitative"}}}
  ]},
  {"layer":[
    {"mark":{"type":"line","strokeWidth":3},
     "encoding":{
      "y":{"field":"amp","type":"quantitative","scale":{"domain":[0.4,1.7],"nice":false,"zero":false},
        "axis":{"orient":"right","title":"Signal amplitude (mV)","titleAngle":270,"titleBaseline":"top","values":[0.4,0.5,0.6,0.7,0.8,0.9,1.0,1.1,1.2,1.3,1.4,1.5,1.6],"labelExpr":"round(datum.value*10) % 2 == 0 ? format(datum.value,'.1f') : ''","labelPadding":0,"titlePadding":12,"encode":{"ticks":{"update":{"x2":{"signal":"round(datum.value*10) % 2 == 0 ? -6 : -3"}}}}}},
      "order":{"field":"i"},
      "color":{"datum":"Signal amplitude","type":"nominal"}
     }},
    {"mark":{"type":"point","shape":"circle","filled":true,"fill":{"gradient":"radial","x1":0.38,"y1":0.35,"r1":0,"x2":0.5,"y2":0.5,"r2":0.55,"stops":[{"offset":0,"color":"#d8ffd8"},{"offset":0.35,"color":"#3ff03f"},{"offset":1,"color":"#12b312"}]},"stroke":"#0fae0f","strokeWidth":1,"size":230,"opacity":1},
     "encoding":{"y":{"field":"amp","type":"quantitative"}}}
  ]}
 ],
 "resolve":{"scale":{"y":"independent"}}
}
]
}
